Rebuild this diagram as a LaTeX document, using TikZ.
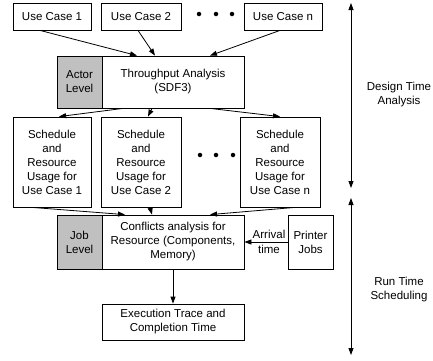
\documentclass[tikz,border=0pt]{standalone}
\usepackage{fontspec}
\setmainfont{Liberation Sans}
\usetikzlibrary{arrows.meta}
\definecolor{levelgray}{HTML}{C0C0C0}
\begin{document}
\begin{tikzpicture}[x=1pt,y=-1pt,
  txt/.style={font=\fontsize{11.5}{14}\selectfont, align=center},
  box/.style={txt, draw=black, line width=0.8pt, fill=white, inner sep=0pt},
  level/.style={box, fill=levelgray},
  conn/.style={line width=0.8pt, -{Triangle[length=7pt,width=5pt]}},
  span/.style={line width=0.8pt, {Triangle[length=7pt,width=5pt]}-{Triangle[length=7pt,width=5pt]}},
  dot/.style={circle, fill=black, inner sep=0pt, minimum size=4.5pt}]
\useasboundingbox (0,0) rectangle (433,360);

% use cases
\node[box, minimum width=78pt, minimum height=27pt] (uc1) at (52,16.5) {Use Case 1};
\node[box, minimum width=80pt, minimum height=27pt] (uc2) at (141,16.5) {Use Case 2};
\node[box, minimum width=78pt, minimum height=27pt] (ucn) at (283,16.5) {Use Case n};
\node[dot] (d1) at (199,14) {};
\node[dot] (d2) at (216,14) {};
\node[dot] (d3) at (232,14) {};

% actor level analysis
\node[level, minimum width=45pt, minimum height=52pt] (actor) at (79.5,82) {Actor\\Level};
\node[box, minimum width=142pt, minimum height=52pt] (thru) at (173,82) {Throughput Analysis\\(SDF3)};

% per use case schedules
\node[box, minimum width=78pt, minimum height=90pt] (s1) at (52,162) {Schedule\\and\\Resource\\Usage for\\Use Case 1};
\node[box, minimum width=80pt, minimum height=90pt] (s2) at (141,162) {Schedule\\and\\Resource\\Usage for\\Use Case 2};
\node[box, minimum width=80pt, minimum height=90pt] (sn) at (280,162) {Schedule\\and\\Resource\\Usage for\\Use Case n};
\node[dot] (e1) at (200,155) {};
\node[dot] (e2) at (216,155) {};
\node[dot] (e3) at (233,155) {};

% job level analysis
\node[level, minimum width=45pt, minimum height=54pt] (job) at (79.5,242) {Job\\Level};
\node[box, minimum width=142pt, minimum height=54pt] (conf) at (173,242) {Conflicts analysis for\\Resource (Components,\\Memory)};
\node[box, minimum width=45pt, minimum height=54pt] (printer) at (310.5,242) {Printer\\Jobs};
\node[box, minimum width=142pt, minimum height=36pt] (exec) at (173,322) {Execution Trace and\\Completion Time};

% connectors
\draw[conn] ([xshift=-12pt]uc1.south) -- ([xshift=-36pt]thru.north);
\draw[conn] ([xshift=-3pt]uc2.south) -- ([xshift=-18pt]thru.north);
\draw[conn] ([xshift=-3pt]ucn.south) -- ([xshift=37pt]thru.north);
\draw[conn] ([xshift=-50pt]thru.south) -- ([xshift=7pt]s1.north);
\draw[conn] ([xshift=-21pt]thru.south) -- ([xshift=7pt]s2.north);
\draw[conn] ([xshift=37pt]thru.south) -- (sn.north);
\draw[conn] ([xshift=-20pt]s1.south) -- ([xshift=-48pt]conf.north);
\draw[conn] ([xshift=9pt]s2.south) -- ([xshift=-21pt]conf.north);
\draw[conn] ([xshift=15pt]sn.south) -- ([xshift=37pt]conf.north);
\draw[conn] (printer.west) -- node[pos=0.43, txt, font=\fontsize{11.5}{15}\selectfont] (arr) {Arrival\\time} (conf.east);
\draw[conn] (conf.south) -- (exec.north);

% phase spans
\coordinate (dtop) at (351,3);
\coordinate (dbot) at (351,188);
\coordinate (rtop) at (351,198);
\coordinate (rbot) at (351,355);
\draw[span] (dtop) -- (dbot);
\draw[span] (rtop) -- (rbot);
\node[txt] (design) at (399,95) {Design Time\\Analysis};
\node[txt] (run) at (399,290) {Run Time\\Scheduling};
\end{tikzpicture}
\end{document}
